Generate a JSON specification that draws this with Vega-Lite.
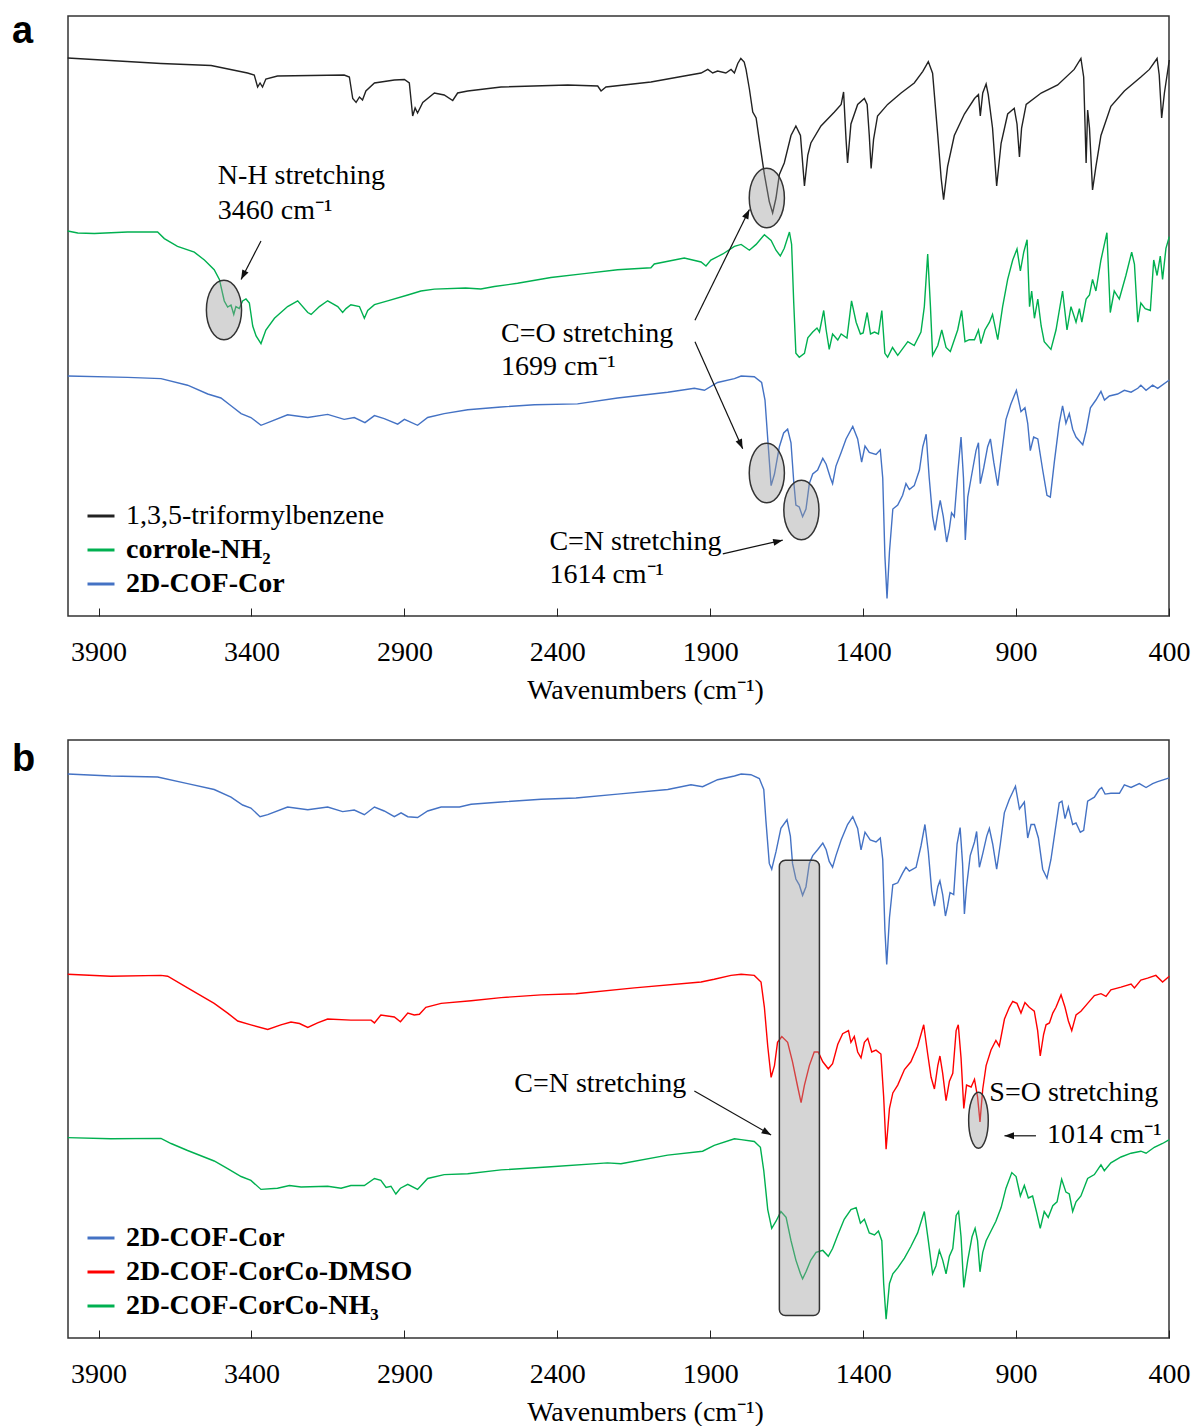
{
"$schema": "https://vega.github.io/schema/vega-lite/v6.json",
"background": "white",
"padding": {"left": 11, "top": 12, "right": 0, "bottom": 0},
"config": {
  "font": "Liberation Serif",
  "view": {"stroke": "#333333", "strokeWidth": 1.5},
  "axisX": {"grid": false, "domain": false, "ticks": true, "tickSize": -8, "tickColor": "#222222", "tickWidth": 1, "labelFont": "Liberation Serif", "labelFontSize": 28, "labelColor": "black", "labelPadding": 30, "labelFlush": false, "labelOverlap": false, "titleFont": "Liberation Serif", "titleFontSize": 28, "titleFontWeight": "normal", "titleColor": "black", "titlePadding": 10, "titleX": 577},
  "legend": {"orient": "bottom-left", "offset": 18, "symbolType": "stroke", "symbolSize": 729, "symbolStrokeWidth": 3, "labelFont": "Liberation Serif", "labelFontSize": 28, "labelColor": "black", "labelOffset": 10, "rowPadding": 5, "padding": 0, "labelLimit": 0},
  "title": {"font": "Liberation Sans", "fontSize": 38, "fontWeight": "bold", "color": "black", "anchor": "start", "frame": "group", "offset": 0, "baseline": "alphabetic"}
},
"datasets": {
"ak": [{"w":4001,"t":558},{"w":3696,"t":552.5},{"w":3532,"t":550.5},{"w":3413,"t":543},{"w":3391,"t":541},{"w":3380,"t":529},{"w":3372,"t":533},{"w":3364,"t":529},{"w":3353,"t":537},{"w":3315,"t":540},{"w":3097,"t":541},{"w":3080,"t":539},{"w":3069,"t":517.5},{"w":3058,"t":513.6},{"w":3047,"t":519},{"w":3037,"t":516},{"w":3026,"t":525},{"w":2998,"t":533},{"w":2933,"t":536},{"w":2900,"t":536.5},{"w":2884,"t":533},{"w":2873,"t":500},{"w":2865,"t":508},{"w":2857,"t":503},{"w":2840,"t":513.6},{"w":2802,"t":523},{"w":2770,"t":521},{"w":2742,"t":515.5},{"w":2726,"t":523},{"w":2693,"t":525},{"w":2584,"t":529},{"w":2366,"t":531},{"w":2268,"t":530},{"w":2257,"t":525},{"w":2241,"t":529},{"w":2094,"t":534},{"w":1985,"t":540},{"w":1930,"t":543},{"w":1908,"t":546.6},{"w":1892,"t":543},{"w":1876,"t":545},{"w":1849,"t":543},{"w":1832,"t":546.6},{"w":1821,"t":543},{"w":1810,"t":552.5},{"w":1800,"t":557.5},{"w":1789,"t":554},{"w":1783,"t":546.6},{"w":1772,"t":527},{"w":1761,"t":504},{"w":1750,"t":498},{"w":1740,"t":476.6},{"w":1723,"t":441.6},{"w":1707,"t":414.4},{"w":1696,"t":403},{"w":1685,"t":418},{"w":1674,"t":441.6},{"w":1658,"t":453},{"w":1636,"t":480.5},{"w":1620,"t":490},{"w":1605,"t":480.5},{"w":1592,"t":430},{"w":1581,"t":461},{"w":1571,"t":473},{"w":1538,"t":490},{"w":1494,"t":504},{"w":1472,"t":511.6},{"w":1464,"t":524},{"w":1456,"t":476.6},{"w":1451,"t":453},{"w":1440,"t":492},{"w":1418,"t":511.6},{"w":1396,"t":517.5},{"w":1387,"t":511.6},{"w":1380,"t":480.5},{"w":1374,"t":447.5},{"w":1366,"t":476.6},{"w":1353,"t":500},{"w":1320,"t":511.6},{"w":1276,"t":523},{"w":1233,"t":533},{"w":1205,"t":544.7},{"w":1187,"t":554.4},{"w":1173,"t":542.8},{"w":1156,"t":480.5},{"w":1145,"t":437.7},{"w":1137,"t":416.3},{"w":1124,"t":449.4},{"w":1102,"t":480.5},{"w":1069,"t":502},{"w":1036,"t":517.5},{"w":1023,"t":521.4},{"w":1017,"t":500},{"w":1009,"t":523},{"w":998,"t":532},{"w":991,"t":521.4},{"w":977,"t":488},{"w":963.5,"t":430},{"w":949,"t":472.7},{"w":927.5,"t":502},{"w":906,"t":507.7},{"w":897,"t":492},{"w":889,"t":459},{"w":882,"t":488},{"w":867,"t":511.6},{"w":818,"t":523},{"w":764,"t":531},{"w":710,"t":546.6},{"w":688,"t":557.5},{"w":679,"t":539},{"w":671,"t":453},{"w":666,"t":506},{"w":660,"t":488},{"w":650,"t":426},{"w":639,"t":449.4},{"w":622.5,"t":480.5},{"w":590,"t":509.7},{"w":546,"t":525},{"w":492,"t":539},{"w":464,"t":546.6},{"w":439,"t":557.5},{"w":432,"t":541},{"w":424,"t":498},{"w":415,"t":523},{"w":399,"t":556}],
"ag": [{"w":4001,"t":385},{"w":3968,"t":383},{"w":3914,"t":382.5},{"w":3805,"t":384},{"w":3707,"t":384},{"w":3685,"t":377.4},{"w":3642,"t":369.7},{"w":3587,"t":363.8},{"w":3554,"t":356},{"w":3522,"t":346.3},{"w":3505,"t":336.6},{"w":3489,"t":315},{"w":3478,"t":309},{"w":3467,"t":311},{"w":3458,"t":301.6},{"w":3451,"t":309.4},{"w":3440,"t":307.4},{"w":3429,"t":315},{"w":3418,"t":317},{"w":3407,"t":313},{"w":3396,"t":290},{"w":3385,"t":280},{"w":3369,"t":272.4},{"w":3353,"t":286},{"w":3325,"t":297.7},{"w":3282,"t":309.4},{"w":3249,"t":315.2},{"w":3216,"t":303.5},{"w":3205,"t":301.6},{"w":3178,"t":309.4},{"w":3151,"t":315.2},{"w":3118,"t":309.4},{"w":3102,"t":303.5},{"w":3091,"t":307.4},{"w":3075,"t":311.3},{"w":3047,"t":309.4},{"w":3031,"t":297.7},{"w":3020,"t":305.5},{"w":2998,"t":311.3},{"w":2955,"t":315.2},{"w":2889,"t":321},{"w":2846,"t":325},{"w":2802,"t":326.9},{"w":2700,"t":328},{"w":2650,"t":327},{"w":2606,"t":329.5},{"w":2530,"t":332.7},{"w":2421,"t":338.5},{"w":2312,"t":342.4},{"w":2203,"t":346.3},{"w":2094,"t":348.3},{"w":2083,"t":352},{"w":1985,"t":358},{"w":1930,"t":354},{"w":1914,"t":350},{"w":1898,"t":356},{"w":1859,"t":362},{"w":1821,"t":369.7},{"w":1799,"t":371.6},{"w":1772,"t":365.8},{"w":1750,"t":371.6},{"w":1723,"t":381.3},{"w":1701,"t":375.5},{"w":1685,"t":365.8},{"w":1671,"t":360},{"w":1658,"t":367.7},{"w":1641,"t":384},{"w":1634,"t":371.6},{"w":1627,"t":313},{"w":1620,"t":262.7},{"w":1609,"t":258.8},{"w":1592,"t":262.7},{"w":1581,"t":278.2},{"w":1565,"t":284},{"w":1551,"t":288},{"w":1543,"t":284},{"w":1529,"t":305.5},{"w":1521,"t":286},{"w":1511,"t":266.6},{"w":1500,"t":282},{"w":1483,"t":276},{"w":1472,"t":282},{"w":1453,"t":278},{"w":1438,"t":315.2},{"w":1423,"t":293.8},{"w":1409,"t":282},{"w":1400,"t":283},{"w":1387,"t":303.5},{"w":1376,"t":282},{"w":1363,"t":284},{"w":1350,"t":282},{"w":1339,"t":305.5},{"w":1329,"t":262.7},{"w":1320,"t":258.8},{"w":1304,"t":268.5},{"w":1287,"t":260.7},{"w":1254,"t":274.4},{"w":1233,"t":270.5},{"w":1211,"t":284},{"w":1200,"t":309.4},{"w":1189,"t":361.9},{"w":1180,"t":309.4},{"w":1173,"t":260.7},{"w":1156,"t":270.5},{"w":1143,"t":286},{"w":1129,"t":268.5},{"w":1115,"t":264.6},{"w":1091,"t":286},{"w":1078,"t":305.5},{"w":1067,"t":274.4},{"w":1053,"t":276.3},{"w":1036,"t":276.3},{"w":1023,"t":286},{"w":1015,"t":272.4},{"w":1002,"t":286},{"w":987,"t":293.8},{"w":977,"t":301.6},{"w":960,"t":276.3},{"w":944,"t":309.4},{"w":927.5,"t":336.6},{"w":911,"t":356},{"w":897,"t":367},{"w":886,"t":345},{"w":875,"t":363.8},{"w":864,"t":376.3},{"w":856,"t":309.4},{"w":849,"t":325},{"w":840,"t":297.7},{"w":829,"t":317},{"w":818,"t":290},{"w":808,"t":274.4},{"w":786,"t":266.6},{"w":769.5,"t":286},{"w":748,"t":325},{"w":733.5,"t":286},{"w":720.5,"t":309.4},{"w":704,"t":293.8},{"w":693,"t":307.4},{"w":685,"t":293.8},{"w":671,"t":317},{"w":660,"t":321},{"w":650,"t":336.6},{"w":639,"t":325},{"w":622.5,"t":356},{"w":603,"t":383.3},{"w":592,"t":303.5},{"w":579,"t":325},{"w":562.5,"t":317},{"w":541,"t":340.5},{"w":522,"t":363.8},{"w":513,"t":352},{"w":502,"t":293.8},{"w":492,"t":313},{"w":478,"t":307.4},{"w":461,"t":305.5},{"w":450,"t":356},{"w":439,"t":340.5},{"w":428.5,"t":360},{"w":421,"t":336.6},{"w":410,"t":367.7},{"w":399,"t":379.4}],
"ab": [{"w":4001,"t":240},{"w":3805,"t":238.6},{"w":3696,"t":237.4},{"w":3609,"t":230.8},{"w":3543,"t":222},{"w":3500,"t":218},{"w":3467,"t":210.2},{"w":3434,"t":202.4},{"w":3402,"t":198.5},{"w":3369,"t":190.7},{"w":3336,"t":194.6},{"w":3282,"t":201.2},{"w":3216,"t":198.5},{"w":3151,"t":201.6},{"w":3097,"t":196.6},{"w":3064,"t":198.5},{"w":3029,"t":193.4},{"w":2998,"t":200.4},{"w":2966,"t":197.3},{"w":2922,"t":191.9},{"w":2900,"t":196.6},{"w":2857,"t":190.7},{"w":2824,"t":198.5},{"w":2770,"t":202.4},{"w":2693,"t":206.3},{"w":2584,"t":209},{"w":2475,"t":211.3},{"w":2334,"t":212.1},{"w":2203,"t":218},{"w":2039,"t":223.8},{"w":1952,"t":227.7},{"w":1919,"t":225.7},{"w":1876,"t":233.5},{"w":1821,"t":237.4},{"w":1799,"t":240},{"w":1756,"t":239.3},{"w":1732,"t":233.5},{"w":1721,"t":216},{"w":1712,"t":177},{"w":1701,"t":130.4},{"w":1690,"t":142},{"w":1674,"t":169.3},{"w":1660,"t":183},{"w":1647,"t":186.8},{"w":1636,"t":173.2},{"w":1627,"t":134.3},{"w":1620,"t":111},{"w":1609,"t":109},{"w":1598,"t":99.3},{"w":1587,"t":107},{"w":1576,"t":132.4},{"w":1565,"t":142},{"w":1549,"t":146},{"w":1532,"t":157.6},{"w":1521,"t":151.8},{"w":1507,"t":138},{"w":1500,"t":132.4},{"w":1489,"t":149.9},{"w":1472,"t":163.5},{"w":1456,"t":177},{"w":1434,"t":189.5},{"w":1418,"t":177},{"w":1405,"t":153.8},{"w":1394,"t":170},{"w":1380,"t":163.5},{"w":1358,"t":161.5},{"w":1344,"t":166.2},{"w":1336,"t":138},{"w":1329,"t":60.4},{"w":1322,"t":17.6},{"w":1314,"t":64.3},{"w":1303,"t":107},{"w":1287,"t":111},{"w":1271,"t":120.7},{"w":1260,"t":132.4},{"w":1249,"t":126.5},{"w":1233,"t":130.4},{"w":1216,"t":146},{"w":1205,"t":169.3},{"w":1194,"t":181.8},{"w":1184,"t":138},{"w":1173,"t":99.3},{"w":1165,"t":85.7},{"w":1156,"t":103.2},{"w":1148,"t":115.6},{"w":1138,"t":99.3},{"w":1127,"t":74},{"w":1118,"t":87.6},{"w":1111,"t":103.2},{"w":1102,"t":99.3},{"w":1091,"t":142},{"w":1080,"t":179},{"w":1072,"t":138},{"w":1066,"t":76},{"w":1058,"t":118.8},{"w":1047,"t":138},{"w":1031,"t":165.4},{"w":1023,"t":173.2},{"w":1017,"t":132.4},{"w":1006,"t":148},{"w":993,"t":169.3},{"w":984,"t":177.1},{"w":973,"t":153.8},{"w":960,"t":130.4},{"w":949,"t":157.6},{"w":933,"t":196.6},{"w":917,"t":212},{"w":899,"t":225.7},{"w":884,"t":204.3},{"w":871,"t":208.2},{"w":862,"t":192.7},{"w":853.5,"t":165.4},{"w":842.5,"t":179},{"w":829,"t":177.1},{"w":813,"t":146},{"w":799,"t":120.7},{"w":788,"t":118.8},{"w":775,"t":153.8},{"w":759,"t":192.7},{"w":748,"t":210.2},{"w":737,"t":192.7},{"w":726,"t":202.4},{"w":715,"t":186.8},{"w":704,"t":179},{"w":682,"t":171.3},{"w":671,"t":185},{"w":657,"t":208.2},{"w":639,"t":216},{"w":622.5,"t":224.6},{"w":611,"t":216},{"w":595,"t":220},{"w":568,"t":222},{"w":546,"t":225.7},{"w":524,"t":223.8},{"w":502,"t":227.7},{"w":492,"t":230.8},{"w":475,"t":225.7},{"w":453.5,"t":230.8},{"w":437,"t":227.7},{"w":399,"t":236}],
"bb": [{"w":4001,"t":564},{"w":3860,"t":562},{"w":3707,"t":561},{"w":3609,"t":554.4},{"w":3522,"t":548.5},{"w":3467,"t":540.8},{"w":3429,"t":533},{"w":3402,"t":529.9},{"w":3372,"t":521.3},{"w":3347,"t":523.3},{"w":3282,"t":531},{"w":3216,"t":528.3},{"w":3151,"t":531},{"w":3102,"t":526.4},{"w":3064,"t":528},{"w":3031,"t":523.3},{"w":2998,"t":531},{"w":2966,"t":527},{"w":2933,"t":521.3},{"w":2911,"t":525.2},{"w":2889,"t":521.3},{"w":2857,"t":520.5},{"w":2824,"t":527},{"w":2780,"t":531},{"w":2720,"t":531},{"w":2682,"t":533.8},{"w":2584,"t":536},{"w":2453,"t":538.8},{"w":2339,"t":540},{"w":2203,"t":543.9},{"w":2039,"t":548.5},{"w":1963,"t":553.2},{"w":1925,"t":551.3},{"w":1876,"t":558.3},{"w":1821,"t":562},{"w":1799,"t":564},{"w":1767,"t":563.3},{"w":1739.5,"t":559.4},{"w":1725,"t":548.5},{"w":1718,"t":517.4},{"w":1707,"t":474.6},{"w":1699,"t":468.8},{"w":1685,"t":486.3},{"w":1669,"t":509.6},{"w":1649,"t":518.2},{"w":1638,"t":501.9},{"w":1631,"t":474.6},{"w":1620,"t":459},{"w":1609,"t":453.2},{"w":1598,"t":442.7},{"w":1587,"t":451.3},{"w":1576,"t":474.6},{"w":1565,"t":482.4},{"w":1549,"t":488.2},{"w":1532,"t":494.9},{"w":1521,"t":488.2},{"w":1511,"t":476.6},{"w":1500,"t":470.7},{"w":1489,"t":482.4},{"w":1472,"t":498},{"w":1451,"t":513.5},{"w":1434,"t":521.3},{"w":1418,"t":509.6},{"w":1407,"t":488.2},{"w":1394,"t":505.8},{"w":1377,"t":498},{"w":1358,"t":496},{"w":1344,"t":500},{"w":1336,"t":478.5},{"w":1329,"t":408.5},{"w":1323,"t":373.5},{"w":1314,"t":420.2},{"w":1303,"t":453.2},{"w":1287,"t":455.2},{"w":1271,"t":464.9},{"w":1260,"t":470.7},{"w":1249,"t":466.8},{"w":1227,"t":470.7},{"w":1211,"t":492},{"w":1198,"t":513.5},{"w":1187,"t":486.3},{"w":1176,"t":447.4},{"w":1167,"t":431.8},{"w":1156,"t":451.3},{"w":1149,"t":457.1},{"w":1140,"t":443.5},{"w":1131,"t":422},{"w":1124,"t":431.8},{"w":1116,"t":445.5},{"w":1104,"t":443.5},{"w":1093,"t":494},{"w":1083,"t":510.4},{"w":1075,"t":474.6},{"w":1069,"t":424},{"w":1062,"t":451.3},{"w":1050,"t":482.4},{"w":1036,"t":496},{"w":1029,"t":506.5},{"w":1020,"t":470.7},{"w":1009,"t":484.4},{"w":996,"t":501.9},{"w":987.4,"t":509.6},{"w":976.5,"t":494},{"w":963.5,"t":468.8},{"w":951.5,"t":494},{"w":938.4,"t":525.2},{"w":922,"t":538.8},{"w":902,"t":551.7},{"w":889,"t":529},{"w":873,"t":536},{"w":862,"t":500},{"w":851,"t":513.5},{"w":840,"t":513.5},{"w":827,"t":500},{"w":813,"t":468.8},{"w":799,"t":459.8},{"w":786,"t":478.5},{"w":773,"t":505.8},{"w":759,"t":535},{"w":750,"t":536.9},{"w":740,"t":519.4},{"w":729,"t":531},{"w":715,"t":513.5},{"w":704,"t":515},{"w":690,"t":505.8},{"w":679,"t":507.7},{"w":666,"t":536.9},{"w":644,"t":540.8},{"w":628,"t":548.5},{"w":620,"t":550.5},{"w":609,"t":543.9},{"w":590,"t":544.7},{"w":562,"t":544.7},{"w":546,"t":553.2},{"w":524,"t":550.5},{"w":497,"t":554.4},{"w":475,"t":550.5},{"w":453.5,"t":554.4},{"w":437,"t":556.3},{"w":399,"t":560.2}],
"br": [{"w":4001,"t":363.8},{"w":3860,"t":361.8},{"w":3696,"t":362.6},{"w":3674,"t":361.8},{"w":3609,"t":350.1},{"w":3522,"t":334.6},{"w":3478,"t":324.9},{"w":3445,"t":317},{"w":3402,"t":313.2},{"w":3347,"t":308.5},{"w":3304,"t":313.2},{"w":3271,"t":316},{"w":3243,"t":314.5},{"w":3216,"t":310.5},{"w":3184,"t":315.1},{"w":3151,"t":319},{"w":3075,"t":317.9},{"w":3009,"t":317.9},{"w":2998,"t":315.1},{"w":2977,"t":323},{"w":2933,"t":321},{"w":2913,"t":316.3},{"w":2889,"t":324.9},{"w":2868,"t":323},{"w":2851,"t":323.7},{"w":2830,"t":330.7},{"w":2780,"t":334.6},{"w":2682,"t":337.3},{"w":2584,"t":340.4},{"w":2453,"t":343.1},{"w":2339,"t":344.3},{"w":2148,"t":350.1},{"w":1930,"t":356},{"w":1887,"t":358.7},{"w":1832,"t":362.6},{"w":1799,"t":363.8},{"w":1756,"t":362.6},{"w":1734,"t":356},{"w":1723,"t":330.7},{"w":1712,"t":291.8},{"w":1701,"t":260.7},{"w":1690,"t":272.4},{"w":1680,"t":295.7},{"w":1666,"t":301.5},{"w":1647,"t":295.7},{"w":1631,"t":276.2},{"w":1614,"t":251},{"w":1603,"t":235.4},{"w":1592,"t":252.9},{"w":1576,"t":272.4},{"w":1560,"t":286},{"w":1547,"t":286},{"w":1532,"t":276.2},{"w":1514,"t":269.2},{"w":1500,"t":274.3},{"w":1483,"t":293.7},{"w":1467,"t":304.3},{"w":1448,"t":307.4},{"w":1440,"t":295.7},{"w":1429,"t":301.5},{"w":1418,"t":286},{"w":1407,"t":280.1},{"w":1396,"t":295.7},{"w":1385,"t":299.6},{"w":1372,"t":286},{"w":1358,"t":287.9},{"w":1342,"t":284},{"w":1333,"t":241.2},{"w":1325,"t":188.7},{"w":1314,"t":229.6},{"w":1303,"t":245.1},{"w":1287,"t":252.9},{"w":1265,"t":268.5},{"w":1244,"t":276.2},{"w":1222,"t":291.8},{"w":1202,"t":313.2},{"w":1189,"t":284},{"w":1178,"t":260.7},{"w":1167,"t":249},{"w":1156,"t":272.4},{"w":1149,"t":282},{"w":1140,"t":264.6},{"w":1129,"t":237.3},{"w":1118,"t":256.8},{"w":1107,"t":264.6},{"w":1096,"t":307.4},{"w":1089,"t":313.2},{"w":1080,"t":280.1},{"w":1071,"t":229.6},{"w":1062,"t":252.9},{"w":1047,"t":251},{"w":1036,"t":258.7},{"w":1026,"t":241.2},{"w":1018,"t":216},{"w":1009,"t":249},{"w":998,"t":272.4},{"w":982,"t":288},{"w":966,"t":297.6},{"w":955,"t":291.8},{"w":938,"t":319},{"w":922,"t":330.7},{"w":911,"t":336.5},{"w":897,"t":334.6},{"w":884,"t":324.9},{"w":871,"t":335.4},{"w":857,"t":330.7},{"w":840.5,"t":326.8},{"w":829.5,"t":307.4},{"w":821,"t":282},{"w":810,"t":303.5},{"w":802,"t":313.2},{"w":791,"t":315.1},{"w":780,"t":324.9},{"w":769.5,"t":330.7},{"w":753,"t":343.1},{"w":740,"t":330.7},{"w":729,"t":317},{"w":718,"t":307.4},{"w":704,"t":323},{"w":688,"t":326.8},{"w":666,"t":334.6},{"w":644,"t":342.4},{"w":622.5,"t":344.3},{"w":606,"t":341.6},{"w":590,"t":348.2},{"w":557,"t":350.9},{"w":524,"t":354},{"w":513,"t":350.1},{"w":492,"t":357.9},{"w":470,"t":359.9},{"w":443,"t":362.6},{"w":421,"t":356},{"w":399,"t":361.8}],
"bg": [{"w":4001,"t":200.4},{"w":3860,"t":199.2},{"w":3696,"t":199.6},{"w":3663,"t":194.5},{"w":3609,"t":187.5},{"w":3522,"t":177},{"w":3478,"t":169.3},{"w":3434,"t":161.5},{"w":3402,"t":157.6},{"w":3369,"t":148.6},{"w":3315,"t":149.8},{"w":3276,"t":152.5},{"w":3238,"t":151},{"w":3151,"t":151.8},{"w":3107,"t":149.8},{"w":3075,"t":152.5},{"w":3031,"t":152.5},{"w":2998,"t":159.5},{"w":2977,"t":157.6},{"w":2960,"t":150.6},{"w":2944,"t":151.8},{"w":2928,"t":144},{"w":2913,"t":149.8},{"w":2889,"t":153.7},{"w":2857,"t":148.6},{"w":2824,"t":159.5},{"w":2770,"t":163.4},{"w":2693,"t":164.2},{"w":2584,"t":168.1},{"w":2421,"t":171.2},{"w":2236,"t":175.1},{"w":2192,"t":174.3},{"w":2039,"t":182.9},{"w":1925,"t":186.8},{"w":1887,"t":192.6},{"w":1821,"t":199.2},{"w":1799,"t":198.4},{"w":1756,"t":196.5},{"w":1736,"t":190.7},{"w":1725,"t":167.3},{"w":1712,"t":128.4},{"w":1699,"t":109.7},{"w":1685,"t":116.8},{"w":1669,"t":126.5},{"w":1652,"t":120.6},{"w":1636,"t":97.3},{"w":1620,"t":77.9},{"w":1605,"t":64.2},{"w":1598,"t":59.2},{"w":1587,"t":66.2},{"w":1571,"t":77.9},{"w":1554,"t":85.6},{"w":1532,"t":87.6},{"w":1514,"t":81.7},{"w":1500,"t":89.5},{"w":1483,"t":103.1},{"w":1462,"t":118.7},{"w":1440,"t":128.4},{"w":1423,"t":130.4},{"w":1409,"t":114.8},{"w":1396,"t":118.7},{"w":1380,"t":105.1},{"w":1363,"t":103.1},{"w":1350,"t":107},{"w":1339,"t":97.3},{"w":1333,"t":54.5},{"w":1325,"t":18.7},{"w":1314,"t":54.5},{"w":1303,"t":64.2},{"w":1287,"t":70.1},{"w":1265,"t":79.8},{"w":1244,"t":91.5},{"w":1222,"t":105.1},{"w":1200,"t":126.5},{"w":1187,"t":97.3},{"w":1173,"t":64.2},{"w":1162,"t":72},{"w":1151,"t":87.6},{"w":1140,"t":77.9},{"w":1129,"t":64.2},{"w":1118,"t":81.7},{"w":1107,"t":89.5},{"w":1096,"t":122.6},{"w":1088,"t":126.5},{"w":1080,"t":101.2},{"w":1071,"t":50.6},{"w":1058,"t":77.9},{"w":1044,"t":101.2},{"w":1034,"t":109.7},{"w":1026,"t":97.3},{"w":1018,"t":66.2},{"w":1009,"t":85.6},{"w":998,"t":97.3},{"w":982,"t":107},{"w":966,"t":116.8},{"w":949,"t":130.4},{"w":933,"t":149.8},{"w":914,"t":165.4},{"w":900,"t":161.5},{"w":886,"t":142},{"w":873,"t":152.5},{"w":860,"t":140},{"w":846,"t":142},{"w":832,"t":124.5},{"w":821,"t":109.7},{"w":808,"t":126.5},{"w":795,"t":120.6},{"w":780,"t":132.3},{"w":766,"t":136.2},{"w":751,"t":158.8},{"w":737,"t":145.9},{"w":726,"t":144},{"w":715,"t":126.5},{"w":704,"t":136.2},{"w":688,"t":142},{"w":666,"t":159.5},{"w":644,"t":163.4},{"w":622.5,"t":173.2},{"w":611.5,"t":167.3},{"w":590,"t":175.1},{"w":557,"t":181},{"w":524,"t":184.8},{"w":492,"t":186.8},{"w":475,"t":184.8},{"w":448,"t":190.7},{"w":421,"t":194.5},{"w":399,"t":198.4}],
"aEll": [{"w":3490,"t":306},{"w":1715,"t":418},{"w":1715,"t":143},{"w":1602,"t":106}],
"aArrow": [{"w":3369,"t":375,"w2":3434,"t2":336.5},{"w":1950,"t":295.7,"w2":1772,"t2":406.6},{"w":1950,"t":274.3,"w2":1794,"t2":167.3},{"w":1859,"t":62.2,"w2":1663,"t2":75.8}],
"aText": [{"w":3510,"t":432,"label":"N-H stretching"},{"w":3510,"t":397,"label":"3460 cm⁻¹"},{"w":2584,"t":274.3,"label":"C=O stretching"},{"w":2584,"t":241.2,"label":"1699 cm⁻¹"},{"w":2426,"t":66.1,"label":"C=N stretching"},{"w":2426,"t":33,"label":"1614 cm⁻¹"}],
"bRect": [{"w":1674,"w2":1543,"t":477.7,"t2":22.5}],
"bEll": [{"w":1023,"t":217.8}],
"bArrow": [{"w":1952,"t":247,"w2":1701,"t2":203},{"w":835,"t":202.2,"w2":938,"t2":202.2}],
"bText": [{"w":2541,"t":245.8,"label":"C=N stretching"},{"w":987.5,"t":237.2,"label":"S=O stretching"},{"w":799,"t":195.2,"label":"1014 cm⁻¹"}]
},
"vconcat": [
{
  "width": 1101, "height": 600,
  "title": {"text": "a", "dx": -56, "dy": 39},
  "encoding": {
    "x": {"field": "w", "type": "quantitative", "scale": {"domain": [400, 4000], "reverse": true, "nice": false, "zero": false}, "axis": {"title": "Wavenumbers (cm⁻¹)", "values": [3900, 3400, 2900, 2400, 1900, 1400, 900, 400], "format": "d"}},
    "y": {"field": "t", "type": "quantitative", "scale": {"domain": [0, 600], "nice": false, "zero": false}, "axis": null}
  },
  "layer": [
    {"data": {"name": "ak"}, "mark": {"type": "line", "strokeWidth": 1.4},
     "encoding": {"color": {"datum": "1,3,5-triformylbenzene", "type": "nominal",
       "scale": {"domain": ["1,3,5-triformylbenzene", "corrole-NH₂", "2D-COF-Cor"], "range": ["#222222", "#00B050", "#4472C4"]},
       "legend": {"title": null, "encode": {"labels": {"update": {"fontWeight": {"signal": "datum.label === '1,3,5-triformylbenzene' ? 'normal' : 'bold'"}}}}}}}},
    {"data": {"name": "ag"}, "mark": {"type": "line", "strokeWidth": 1.4}, "encoding": {"color": {"datum": "corrole-NH₂", "type": "nominal"}}},
    {"data": {"name": "ab"}, "mark": {"type": "line", "strokeWidth": 1.4}, "encoding": {"color": {"datum": "2D-COF-Cor", "type": "nominal"}}},
    {"data": {"name": "aEll"}, "mark": {"type": "point", "shape": "M0,-1A0.59,1,0,1,1,0,1A0.59,1,0,1,1,0,-1Z", "size": 3550, "filled": true, "fill": "#9a9a9a", "fillOpacity": 0.42, "stroke": "#333333", "strokeWidth": 1.5, "strokeOpacity": 1, "opacity": 1}},
    {"data": {"name": "aArrow"}, "mark": {"type": "rule", "color": "#111111", "strokeWidth": 1.2}, "encoding": {"x2": {"field": "w2"}, "y2": {"field": "t2"}}},
    {"data": {"values": [{"w": 3434, "t": 336.5}]}, "mark": {"type": "point", "shape": "M0,0L-0.4,1.1L0.4,1.1Z", "size": 300, "filled": true, "fill": "#111111", "opacity": 1, "angle": 207}},
    {"data": {"values": [{"w": 1772, "t": 406.6}]}, "mark": {"type": "point", "shape": "M0,0L-0.4,1.1L0.4,1.1Z", "size": 300, "filled": true, "fill": "#111111", "opacity": 1, "angle": 26}},
    {"data": {"values": [{"w": 1794, "t": 167.3}]}, "mark": {"type": "point", "shape": "M0,0L-0.4,1.1L0.4,1.1Z", "size": 300, "filled": true, "fill": "#111111", "opacity": 1, "angle": 156}},
    {"data": {"values": [{"w": 1663, "t": 75.8}]}, "mark": {"type": "point", "shape": "M0,0L-0.4,1.1L0.4,1.1Z", "size": 300, "filled": true, "fill": "#111111", "opacity": 1, "angle": 77}},
    {"data": {"name": "aText"}, "mark": {"type": "text", "align": "left", "baseline": "alphabetic", "font": "Liberation Serif", "fontSize": 28, "color": "black"}, "encoding": {"text": {"field": "label"}}}
  ]
},
{
  "width": 1101, "height": 598,
  "title": {"text": "b", "dx": -56, "dy": 43},
  "encoding": {
    "x": {"field": "w", "type": "quantitative", "scale": {"domain": [400, 4000], "reverse": true, "nice": false, "zero": false}, "axis": {"title": "Wavenumbers (cm⁻¹)", "values": [3900, 3400, 2900, 2400, 1900, 1400, 900, 400], "format": "d"}},
    "y": {"field": "t", "type": "quantitative", "scale": {"domain": [0, 598], "nice": false, "zero": false}, "axis": null}
  },
  "layer": [
    {"data": {"name": "bb"}, "mark": {"type": "line", "strokeWidth": 1.4},
     "encoding": {"color": {"datum": "2D-COF-Cor", "type": "nominal",
       "scale": {"domain": ["2D-COF-Cor", "2D-COF-CorCo-DMSO", "2D-COF-CorCo-NH₃"], "range": ["#4472C4", "#FF0000", "#00B050"]},
       "legend": {"title": null, "labelFontWeight": "bold"}}}},
    {"data": {"name": "br"}, "mark": {"type": "line", "strokeWidth": 1.4}, "encoding": {"color": {"datum": "2D-COF-CorCo-DMSO", "type": "nominal"}}},
    {"data": {"name": "bg"}, "mark": {"type": "line", "strokeWidth": 1.4}, "encoding": {"color": {"datum": "2D-COF-CorCo-NH₃", "type": "nominal"}}},
    {"data": {"name": "bRect"}, "mark": {"type": "rect", "fill": "#9a9a9a", "fillOpacity": 0.42, "stroke": "#333333", "strokeWidth": 1.5, "cornerRadius": 6}, "encoding": {"x2": {"field": "w2"}, "y2": {"field": "t2"}}},
    {"data": {"name": "bEll"}, "mark": {"type": "point", "shape": "M0,-1A0.35,1,0,1,1,0,1A0.35,1,0,1,1,0,-1Z", "size": 3136, "filled": true, "fill": "#9a9a9a", "fillOpacity": 0.42, "stroke": "#333333", "strokeWidth": 1.5, "strokeOpacity": 1, "opacity": 1}},
    {"data": {"name": "bArrow"}, "mark": {"type": "rule", "color": "#111111", "strokeWidth": 1.2}, "encoding": {"x2": {"field": "w2"}, "y2": {"field": "t2"}}},
    {"data": {"values": [{"w": 1701, "t": 203}]}, "mark": {"type": "point", "shape": "M0,0L-0.4,1.1L0.4,1.1Z", "size": 300, "filled": true, "fill": "#111111", "opacity": 1, "angle": 120}},
    {"data": {"values": [{"w": 938, "t": 202.2}]}, "mark": {"type": "point", "shape": "M0,0L-0.4,1.1L0.4,1.1Z", "size": 300, "filled": true, "fill": "#111111", "opacity": 1, "angle": 270}},
    {"data": {"name": "bText"}, "mark": {"type": "text", "align": "left", "baseline": "alphabetic", "font": "Liberation Serif", "fontSize": 28, "color": "black"}, "encoding": {"text": {"field": "label"}}}
  ]
}
],
"spacing": 34,
"resolve": {"scale": {"color": "independent", "y": "independent"}, "legend": {"color": "independent"}}
}
